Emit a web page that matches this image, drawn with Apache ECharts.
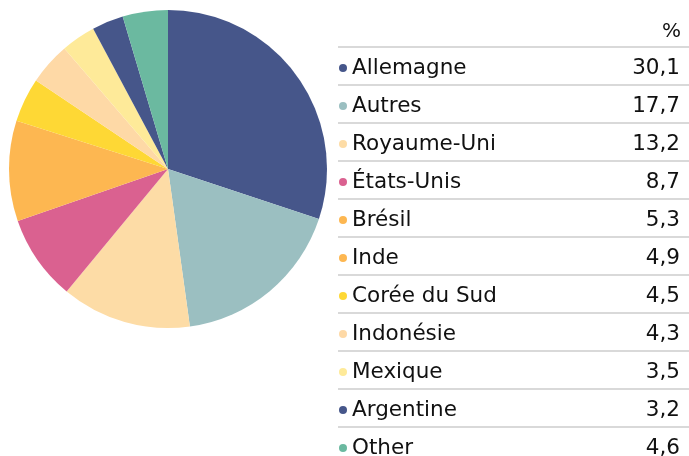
<!DOCTYPE html>
<html>
<head>
<meta charset="utf-8">
<script src="https://cdn.jsdelivr.net/npm/echarts@6/dist/echarts.min.js"></script>
<style>
    html, body { margin: 0; padding: 0; background: #fff; }
    #chart { width: 689px; height: 456px; }
</style>
</head>
<body>
<div id="chart"></div>
<script>
// data
var countries = ['Allemagne', 'Autres', 'Royaume-Uni', 'États-Unis', 'Brésil', 'Inde',
    'Corée du Sud', 'Indonésie', 'Mexique', 'Argentine', 'Other'];
var shares = [30.1, 17.7, 13.2, 8.7, 5.3, 4.9, 4.5, 4.3, 3.5, 3.2, 4.6];
var colors = ['#46568a', '#9bbfc1', '#fddca6', '#da6190', '#fdb751', '#fdb751',
    '#fed835', '#fed9a6', '#feea99', '#46568a', '#6bb9a0'];
var unitLabel = '%';

var font = '"DejaVu Sans", Verdana, sans-serif';
var rowTop = 47;
var rowH = 38;
var textH = 22;

function fmt(v) {
    return v.toFixed(1).replace('.', ',');
}

var pieData = countries.map(function (name, i) {
    return { name: name, value: shares[i], itemStyle: { color: colors[i] } };
});

// separator lines of the legend table
var graphics = [];
for (var i = 0; i <= countries.length; i++) {
    graphics.push({
        type: 'rect',
        left: 338,
        top: rowTop + i * rowH - 1,
        shape: { width: 351, height: 2 },
        style: { fill: '#d9d9d9' },
        silent: true
    });
}
graphics.push({
    type: 'text',
    right: 8,
    top: 22,
    style: { text: unitLabel, font: '20px ' + font, fill: '#111' }
});

var chart = echarts.init(document.getElementById('chart'));
chart.setOption({
    animation: false,
    color: colors,
    legend: {
        orient: 'vertical',
        left: 339,
        top: rowTop + rowH / 2 + 2 - textH / 2,
        height: 440,
        padding: 0,
        itemGap: rowH - textH,
        icon: 'circle',
        itemWidth: 8,
        itemHeight: 8,
        selectedMode: false,
        data: countries,
        formatter: function (name) {
            return '{n|' + name + '}{v|' + fmt(shares[countries.indexOf(name)]) + '}';
        },
        textStyle: {
            padding: [0, 0, 0, 0],
            rich: {
                n: { width: 250, height: textH, fontSize: 21.5, fontFamily: font, color: '#111' },
                v: { width: 78, height: textH, align: 'right', fontSize: 21.5, fontFamily: font, color: '#111' }
            }
        }
    },
    graphic: graphics,
    series: [{
        type: 'pie',
        center: [168, 169],
        radius: [0, 159],
        startAngle: 90,
        clockwise: true,
        label: { show: false },
        labelLine: { show: false },
        emphasis: { disabled: true },
        itemStyle: { borderWidth: 0 },
        data: pieData
    }]
});
</script>
</body>
</html>
